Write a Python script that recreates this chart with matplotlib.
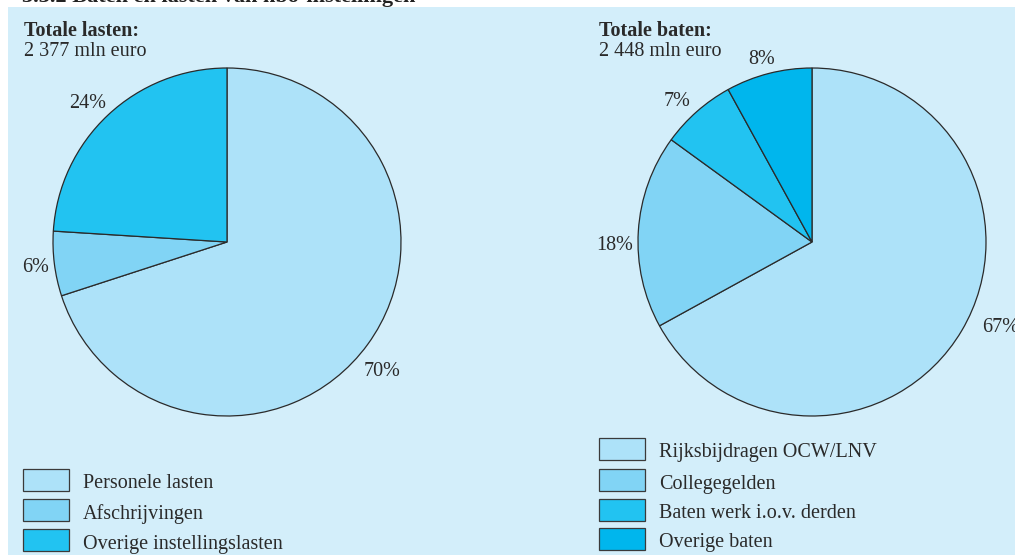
import matplotlib
matplotlib.use("Agg")
import matplotlib.pyplot as plt
from matplotlib.patches import Rectangle

plt.rcParams["font.family"] = ["Liberation Serif", "DejaVu Serif"]

# data
lasten_labels = ["Personele lasten", "Afschrijvingen", "Overige instellingslasten"]
lasten_pct = [70, 6, 24]
lasten_total = "2 377 mln euro"

baten_labels = ["Rijksbijdragen OCW/LNV", "Collegegelden", "Baten werk i.o.v. derden", "Overige baten"]
baten_pct = [67, 18, 7, 8]
baten_total = "2 448 mln euro"

title = "3.3.2 Baten en lasten van hbo-instellingen"

col_lasten = ["#ade2f9", "#81d4f5", "#22c3f1"]
col_baten = ["#ade2f9", "#81d4f5", "#22c3f1", "#00b6ed"]

W, H = 1015, 555
fig = plt.figure(figsize=(W / 100, H / 100), dpi=100)
fig.patch.set_facecolor("white")
ax = fig.add_axes([0, 0, 1, 1])

def py(y):
    # pixel row -> data y (upwards)
    return H - y

# background panel
ax.add_patch(Rectangle((8, 0), W - 8, py(7), facecolor="#d3eefa", edgecolor="none", zorder=0))

# figure title, cut off at the top like in the source
ax.text(22, py(-3), title, fontsize=16, fontweight="bold", color="#222222", va="center", ha="left")

wedge_kw = dict(edgecolor="#2a2a2a", linewidth=0.9)
R = 174

ax.pie(lasten_pct, colors=col_lasten, startangle=90, counterclock=False,
       center=(227, py(242)), radius=R, wedgeprops=wedge_kw, frame=True)
ax.pie(baten_pct, colors=col_baten, startangle=90, counterclock=False,
       center=(812, py(242)), radius=R, wedgeprops=wedge_kw, frame=True)

ax.set_xlim(0, W)
ax.set_ylim(0, H)
ax.set_aspect("auto")
ax.axis("off")

txt = dict(fontsize=14.5, color="#2a2a2a")

# headers
ax.text(24, py(31), "Totale lasten:", fontweight="bold", va="center", **txt)
ax.text(24, py(52), lasten_total, va="center", **txt)
ax.text(599, py(31), "Totale baten:", fontweight="bold", va="center", **txt)
ax.text(599, py(52), baten_total, va="center", **txt)

# percentage labels
lasten_pos = [(382, 371), (36, 267), (88, 103)]
for p, (x, y) in zip(lasten_pct, lasten_pos):
    ax.text(x, py(y), f"{p}%", ha="center", va="center", **txt)
baten_pos = [(1001, 327), (615, 245), (677, 101), (762, 60)]
for p, (x, y) in zip(baten_pct, baten_pos):
    ax.text(x, py(y), f"{p}%", ha="center", va="center", **txt)

# legends
def legend(x0, ys, labels, colors):
    for y, lab, c in zip(ys, labels, colors):
        ax.add_patch(Rectangle((x0, py(y + 11)), 46, 22, facecolor=c,
                               edgecolor="#3a3a3a", linewidth=0.9, zorder=3))
        ax.text(x0 + 60, py(y + 4), lab, va="center", **txt)

legend(23, [480, 510, 540], lasten_labels, col_lasten)
legend(599, [449, 480, 510, 539], baten_labels, col_baten)

fig.savefig("out.png", dpi=100)
